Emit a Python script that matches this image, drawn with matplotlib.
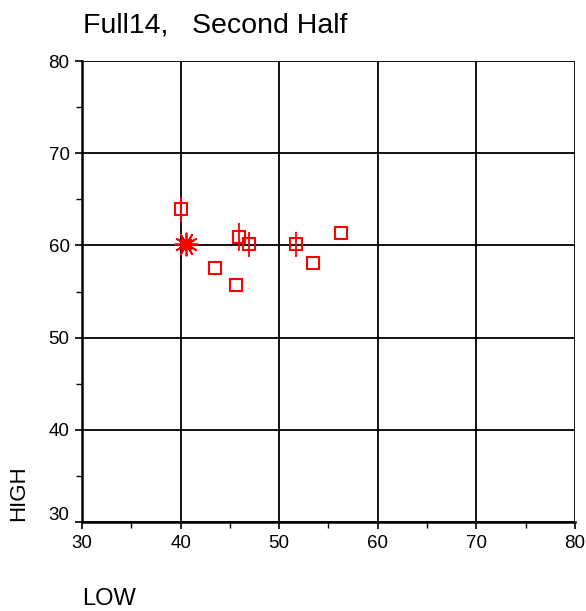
import matplotlib
matplotlib.use("Agg")
import matplotlib.pyplot as plt
from matplotlib.ticker import MultipleLocator
from matplotlib.transforms import ScaledTranslation

plt.rcParams['font.family'] = ['Liberation Sans', 'DejaVu Sans']

# Open-square points
low_pts = [40.0, 45.9, 46.9, 43.5, 45.6, 51.7, 53.4, 56.3]
high_pts = [63.9, 60.9, 60.1, 57.6, 55.7, 60.1, 58.1, 61.3]
# vertical error bar half-lengths (0 = none)
high_err = [1.4, 1.5, 1.35, 0.0, 0.0, 1.4, 0.0, 0.0]

# Reference (star) point
star_low = [40.5]
star_high = [60.1]

title = "Full14,   Second Half"
x_label = "LOW"
y_label = "HIGH"
ticks = [30, 40, 50, 60, 70, 80]

fig = plt.figure(figsize=(5.86, 6.11), dpi=100)
ax = fig.add_axes([82/586, 1 - 522/611, (575-82)/586, (522-61)/611])
ax.set_xlim(30, 80)
ax.set_ylim(30, 80)
ax.set_xticks(ticks)
ax.set_yticks(ticks)
ax.xaxis.set_minor_locator(MultipleLocator(5))
ax.yaxis.set_minor_locator(MultipleLocator(5))
ax.grid(True, which='major', color='black', linewidth=1.3)
ax.set_axisbelow(True)
for side in ['top', 'right']:
    ax.spines[side].set_visible(False)
for side in ['left', 'bottom']:
    ax.spines[side].set_linewidth(1.8)
ax.tick_params(which='major', direction='out', length=5, width=1.2, labelsize=13.5, pad=4)
ax.tick_params(which='minor', direction='out', length=4, width=1.0)

# lowest y tick label sits slightly above its tick
ylabs = ax.get_yticklabels()
ylabs[0].set_transform(ylabs[0].get_transform() + ScaledTranslation(0, 9/100, fig.dpi_scale_trans))

red = '#ff0000'
for x, y, e in zip(low_pts, high_pts, high_err):
    if e > 0:
        ax.errorbar([x], [y], yerr=[e], fmt='none', ecolor=red, elinewidth=1.3, capsize=0, zorder=3)
sq, = ax.plot(low_pts, high_pts, linestyle='none', marker='s', markersize=8,
              markerfacecolor='none', markeredgecolor=red, markeredgewidth=1.5, zorder=4)
sq.set_solid_joinstyle('round')

ax.plot(star_low, star_high, linestyle='none', marker=(12, 2, 0), markersize=17,
        markeredgecolor=red, markeredgewidth=1.3, zorder=5)
ax.plot(star_low, star_high, linestyle='none', marker='s', markersize=7.5,
        markerfacecolor=red, markeredgecolor=red, zorder=6)

fig.text(83/586, 1 - 33/611, title, fontsize=20.5, ha='left', va='baseline')
fig.text(82/586, 1 - 605/611, x_label, fontsize=17, ha='left', va='baseline')
fig.text(19/586, 1 - 493/611, y_label, fontsize=16, ha='center', va='center', rotation=90)

fig.savefig("out.png", dpi=100)
